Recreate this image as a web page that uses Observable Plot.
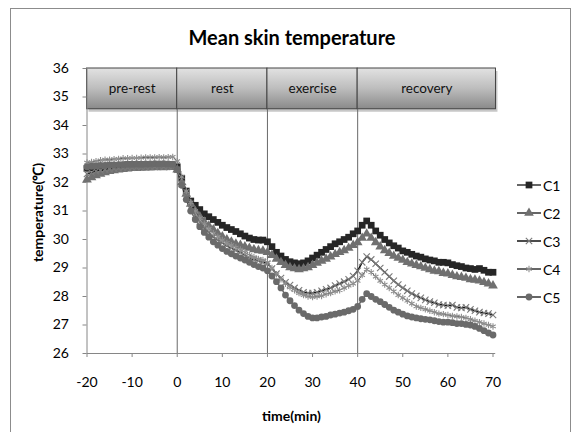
<!DOCTYPE html>
<html><head><meta charset="utf-8">
<script src="https://cdn.jsdelivr.net/npm/d3@7"></script>
<script src="https://cdn.jsdelivr.net/npm/@observablehq/plot@0.6"></script>
<style>
body{margin:0;background:#fff;font-family:Lato,"Open Sans",sans-serif;}
#wrap{position:relative;width:572px;height:432px;overflow:hidden;}
#border{position:absolute;left:10px;top:8px;width:561px;height:432px;border:1px solid #8c8c8c;box-sizing:border-box;}
#title{position:absolute;left:0;width:584px;top:24px;line-height:26px;text-align:center;font-weight:bold;font-size:20px;color:#000;}
#chart{position:absolute;left:0;top:0;}
#legend{position:absolute;left:517px;top:0;}
.li{position:absolute;left:0;height:16px;width:50px;display:flex;align-items:center;font-size:14px;color:#000;}
.li svg{margin-right:1px;}
</style></head>
<body>
<div id="wrap">
  <div id="border"></div>
  <div id="chart"></div>
  <div id="title">Mean skin temperature</div>
  <div id="legend"></div>
</div>
<script>
// ---- data ----
const minutes = d3.range(-20, 71); // sampling grid, one reading per minute
const seriesNames = ["C1", "C2", "C3", "C4", "C5"];
const C1 = [32.50,32.52,32.54,32.55,32.57,32.58,32.60,32.60,32.61,32.62,32.62,32.63,32.62,32.63,32.62,32.63,32.64,32.62,32.63,32.62,
  32.55,32.15,31.70,31.35,31.20,31.05,30.90,30.80,30.70,30.60,30.50,30.42,30.35,30.28,30.20,30.12,30.05,30.00,29.98,29.98,29.92,
  29.75,29.55,29.42,29.30,29.22,29.18,29.15,29.18,29.25,29.35,29.45,29.55,29.65,29.75,29.85,29.92,30.00,30.08,30.20,30.30,
  30.50,30.65,30.50,30.30,30.15,30.00,29.88,29.78,29.70,29.60,29.55,29.48,29.42,29.38,29.32,29.28,29.25,29.20,29.20,29.18,
  29.12,29.08,29.05,29.00,28.98,28.95,28.98,28.92,28.85,28.85];
const C2 = [32.10,32.18,32.25,32.30,32.35,32.40,32.42,32.45,32.47,32.48,32.50,32.50,32.52,32.52,32.53,32.53,32.54,32.53,32.55,32.54,
  32.45,32.00,31.60,31.25,31.00,30.80,30.62,30.48,30.35,30.22,30.10,30.00,29.92,29.85,29.80,29.75,29.70,29.65,29.62,29.60,29.55,
  29.45,29.32,29.20,29.10,29.02,28.98,28.95,28.98,29.02,29.10,29.18,29.25,29.32,29.40,29.48,29.55,29.62,29.70,29.80,29.90,
  30.05,30.20,30.05,29.90,29.75,29.62,29.52,29.42,29.35,29.28,29.20,29.15,29.10,29.05,29.00,28.95,28.90,28.88,28.82,28.80,
  28.75,28.70,28.68,28.65,28.60,28.58,28.55,28.50,28.45,28.38];
const C3 = [32.30,32.35,32.40,32.42,32.45,32.47,32.48,32.50,32.50,32.52,32.52,32.53,32.53,32.54,32.55,32.55,32.56,32.55,32.56,32.55,
  32.45,31.95,31.50,31.10,30.85,30.62,30.42,30.25,30.10,29.98,29.88,29.78,29.70,29.62,29.55,29.45,29.35,29.30,29.25,29.20,29.15,
  28.98,28.80,28.65,28.50,28.40,28.30,28.22,28.15,28.12,28.12,28.15,28.20,28.25,28.30,28.38,28.45,28.52,28.60,28.72,28.90,
  29.20,29.40,29.30,29.15,29.00,28.85,28.70,28.55,28.42,28.30,28.20,28.10,28.02,27.95,27.88,27.82,27.78,27.72,27.70,27.68,
  27.70,27.62,27.60,27.62,27.55,27.50,27.45,27.42,27.40,27.35];
const C4 = [32.70,32.72,32.75,32.78,32.80,32.80,32.82,32.83,32.85,32.85,32.86,32.86,32.87,32.88,32.88,32.88,32.89,32.88,32.89,32.90,
  32.75,32.20,31.70,31.30,31.00,30.75,30.55,30.38,30.22,30.10,29.98,29.88,29.80,29.72,29.65,29.55,29.45,29.38,29.32,29.28,29.20,
  29.00,28.78,28.60,28.45,28.32,28.22,28.12,28.05,28.00,27.98,28.00,28.02,28.08,28.12,28.18,28.22,28.30,28.38,28.45,28.55,
  28.75,28.95,28.85,28.70,28.55,28.42,28.30,28.18,28.05,27.95,27.85,27.75,27.65,27.60,27.55,27.50,27.45,27.40,27.38,27.35,
  27.32,27.30,27.28,27.25,27.20,27.15,27.10,27.05,27.00,26.95];
const C5 = [32.55,32.57,32.58,32.60,32.60,32.62,32.62,32.63,32.63,32.64,32.64,32.65,32.64,32.65,32.65,32.66,32.65,32.66,32.65,32.64,
  32.45,31.90,31.40,31.00,30.70,30.45,30.25,30.08,29.92,29.80,29.68,29.58,29.50,29.42,29.35,29.28,29.20,29.12,29.05,29.00,28.90,
  28.72,28.52,28.30,28.05,27.85,27.68,27.52,27.40,27.30,27.25,27.25,27.28,27.30,27.35,27.38,27.42,27.45,27.50,27.55,27.65,
  27.90,28.10,28.00,27.90,27.82,27.72,27.62,27.52,27.45,27.38,27.32,27.28,27.25,27.22,27.20,27.18,27.15,27.12,27.10,27.10,
  27.08,27.05,27.05,27.02,27.00,26.95,26.88,26.80,26.72,26.65];
const phaseLabels = ["pre-rest", "rest", "exercise", "recovery"];
const phaseStarts = [-20, 0, 20, 40];
const phaseEnds = [0, 20, 40, 70.66];
const xTicks = [-20, -10, 0, 10, 20, 30, 40, 50, 60, 70];
const yTicks = [26, 27, 28, 29, 30, 31, 32, 33, 34, 35, 36];

// ---- tables ----
const allValues = [C1, C2, C3, C4, C5];
const rows = [];
seriesNames.forEach((s, i) => minutes.forEach((t, j) => rows.push({series: s, t, v: allValues[i][j]})));
const phases = phaseLabels.map((label, i) => ({label, start: phaseStarts[i], end: phaseEnds[i], mid: (phaseStarts[i] + phaseEnds[i]) / 2}));

const styles = {
  C1: {line: "#262626", lw: 1.5, symbol: "square", r: 3.8, fill: "#262626", stroke: "none"},
  C2: {line: "#6b6b6b", lw: 1.5, symbol: "triangle", r: 3.6, fill: "#707070", stroke: "none"},
  C3: {line: "#111111", lw: 1.5, symbol: "times", r: 3.0, fill: "none", stroke: "#7a7a7a"},
  C4: {line: "#555555", lw: 1.0, symbol: "asterisk", r: 3.0, fill: "none", stroke: "#8f8f8f"},
  C5: {line: "#6a6a6a", lw: 1.5, symbol: "circle", r: 3.4, fill: "#6a6a6a", stroke: "none"}
};

const bandBottom = 34.57, bandTop = 36;
const marks = [
  Plot.rect(phases, {x1: "start", x2: "end", y1: bandBottom, y2: bandTop, fill: "#000", fillOpacity: 0.22, dx: 2, dy: 3}),
  Plot.rect(phases, {x1: "start", x2: "end", y1: bandBottom, y2: bandTop, fill: "url(#bandGrad)", stroke: "#444", strokeWidth: 1}),
  Plot.text(phases, {x: "mid", y: (bandBottom + bandTop) / 2, text: "label", fontSize: 13.5, fill: "#111"}),
  Plot.ruleX(phases.slice(1), {x: "start", y1: 26, y2: bandBottom, stroke: "#6a6a6a", strokeWidth: 1}),
  Plot.ruleX([-20], {y1: 26, y2: 36, stroke: "#868686"}),
  Plot.ruleY([26], {x1: -20, x2: 70.6, stroke: "#868686"})
];
seriesNames.forEach(s => {
  const st = styles[s];
  const d = rows.filter(r => r.series === s);
  marks.push(Plot.line(d, {x: "t", y: "v", stroke: st.line, strokeWidth: st.lw}));
});
seriesNames.forEach(s => {
  const st = styles[s];
  const d = rows.filter(r => r.series === s);
  marks.push(Plot.dot(d, {x: "t", y: "v", symbol: () => st.symbol, r: st.r, fill: st.fill, stroke: st.stroke, strokeWidth: 1.1}));
});
marks.push(
  Plot.axisX({ticks: xTicks, tickSize: 4, tickPadding: 20, stroke: "#868686", fill: "#000", fontSize: 14, label: null, tickFormat: d => String(d)}),
  Plot.axisY({ticks: yTicks, tickSize: 4, tickPadding: 14, stroke: "#868686", fill: "#000", fontSize: 14, label: null, tickFormat: d => String(d)}),
  Plot.text(["temperature(℃)"], {frameAnchor: "left", textAnchor: "middle", lineAnchor: "middle", dx: -48.5, dy: 1.5, rotate: -90, text: d => d, fontSize: 14, fontWeight: "bold", fill: "#000"}),
  Plot.text(["time(min)"], {frameAnchor: "bottom", textAnchor: "middle", lineAnchor: "middle", dy: 63, dx: 1.5, text: d => d, fontSize: 14, fontWeight: "bold", fill: "#000"})
);

const chart = Plot.plot({
  width: 572, height: 432,
  marginLeft: 86.5, marginRight: 79.5, marginTop: 68, marginBottom: 79,
  style: {fontFamily: "Lato, 'Open Sans', sans-serif", fontSize: "14px", background: "transparent", overflow: "visible"},
  x: {domain: [-20, 70], axis: null},
  y: {domain: [26, 36], axis: null},
  symbol: {type: "identity"},
  marks
});
chart.insertAdjacentHTML("afterbegin",
  '<defs><linearGradient id="bandGrad" x1="0" y1="0" x2="0" y2="1">' +
  '<stop offset="0" stop-color="#e2e2e2"/><stop offset="0.5" stop-color="#bdbdbd"/><stop offset="1" stop-color="#8a8a8a"/>' +
  '</linearGradient></defs>');
document.getElementById("chart").appendChild(chart);

// ---- legend ----
const legend = d3.select("#legend");
const symMap = {square: d3.symbolSquare, triangle: d3.symbolTriangle, times: d3.symbolTimes, asterisk: d3.symbolAsterisk, circle: d3.symbolCircle};
seriesNames.forEach((s, i) => {
  const st = styles[s];
  const item = legend.append("div").attr("class", "li").style("top", (177 + i * 28) + "px");
  const svg = item.append("svg").attr("width", 25).attr("height", 16);
  svg.append("line").attr("x1", 0).attr("x2", 24).attr("y1", 8).attr("y2", 8).attr("stroke", i === 2 ? "#111" : "#333").attr("stroke-width", 1.5);
  svg.append("path").attr("transform", "translate(12,8)")
    .attr("d", d3.symbol(symMap[st.symbol], st.r * st.r * Math.PI)())
    .attr("fill", st.fill).attr("stroke", st.stroke).attr("stroke-width", 1.1);
  item.append("span").text(s);
});
</script>
</body></html>
